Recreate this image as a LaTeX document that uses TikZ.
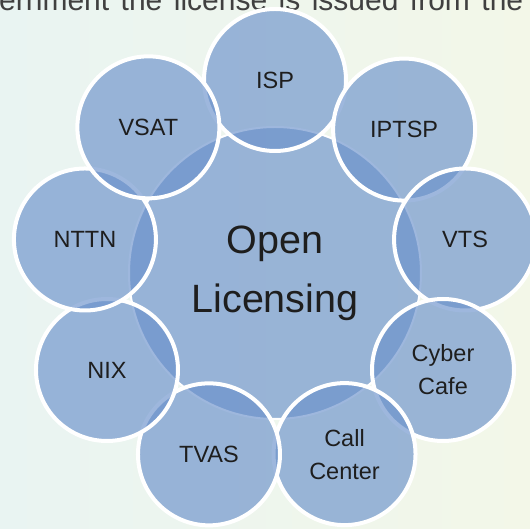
\documentclass[tikz,border=0pt]{standalone}
\usepackage{fontspec}
\setmainfont{Liberation Sans}
\usepackage{tikz}

\definecolor{ringblue}{RGB}{106,145,203}
\definecolor{labelgray}{RGB}{30,30,30}
\definecolor{bgleft}{RGB}{233,244,242}
\definecolor{bgright}{RGB}{243,247,232}

\begin{document}
\begin{tikzpicture}[
    x=1pt, y=1pt,
    hub/.style={circle, draw=white, line width=2pt, fill=ringblue, fill opacity=0.65, text opacity=1, text=labelgray, minimum size=292pt, align=center, font=\fontsize{39.5}{59}\selectfont},
    sat/.style={circle, draw=white, line width=4pt, fill=ringblue, fill opacity=0.65, text opacity=1, text=labelgray, minimum size=142pt, align=center, font=\fontsize{23.5}{33}\selectfont},
    caption/.style={anchor=base west, inner sep=0pt, text=labelgray!85, font=\fontsize{30}{34}\selectfont}
]
    \useasboundingbox (-275,-256) rectangle (255,273);
    \fill[left color=bgleft, right color=bgright] (-275,-256) rectangle (255,273);

    % top line of the page text, cut by the frame
    \node[caption] (topline) at (-276,262) {\makebox[524pt][s]{ernment the license is issued from the}};

    \node[hub] (hub) at (0,0) {Open\\Licensing};

    \node[sat] (isp) at (90:193pt) {ISP};
    \node[sat] (iptsp) at (48:193pt) {IPTSP};
    \node[sat] (vts) at (10:193pt) {VTS};
    \node[sat] (cyber) at (-30:194pt) {Cyber\\Cafe};
    \node[sat] (call) at (-69:194pt) {Call\\Center};
    \node[sat] (tvas) at (-110:193pt) {TVAS};
    \node[sat] (nix) at (-150:194pt) {NIX};
    \node[sat] (nttn) at (170:193pt) {NTTN};
    \node[sat] (vsat) at (131:193pt) {VSAT};
\end{tikzpicture}
\end{document}
